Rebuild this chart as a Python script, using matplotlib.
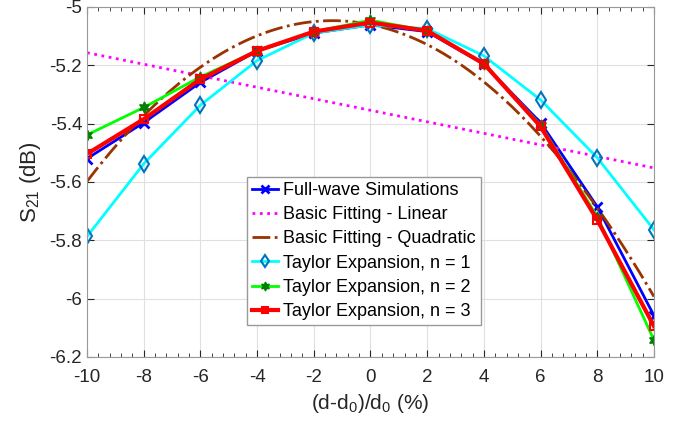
import numpy as np
import matplotlib
matplotlib.use("Agg")
import matplotlib.pyplot as plt
from matplotlib.ticker import MultipleLocator

plt.rcParams['font.family'] = ['Liberation Sans', 'DejaVu Sans']
plt.rcParams['mathtext.fontset'] = 'custom'
plt.rcParams['mathtext.rm'] = 'Liberation Sans'
plt.rcParams['axes.unicode_minus'] = False

x = [-10, -8, -6, -4, -2, 0, 2, 4, 6, 8, 10]
full_wave = [-5.520, -5.397, -5.259, -5.151, -5.090, -5.062, -5.085, -5.197, -5.397, -5.685, -6.058]
taylor_n1 = [-5.787, -5.538, -5.337, -5.184, -5.090, -5.062, -5.075, -5.168, -5.319, -5.517, -5.764]
taylor_n2 = [-5.439, -5.345, -5.240, -5.151, -5.085, -5.046, -5.082, -5.195, -5.405, -5.719, -6.142]
taylor_n3 = [-5.504, -5.385, -5.248, -5.151, -5.085, -5.054, -5.082, -5.195, -5.410, -5.730, -6.094]
yticks = [-6.2, -6.0, -5.8, -5.6, -5.4, -5.2, -5.0]
ytick_labels = ['-6.2', '-6', '-5.8', '-5.6', '-5.4', '-5.2', '-5']

# basic fitting, as in the original (polyfit of the full-wave data)
xf = np.linspace(-10, 10, 201)
lin = np.polyval(np.polyfit(x, full_wave, 1), xf)
quad = np.polyval(np.polyfit(x, full_wave, 2), xf)

fig = plt.figure(figsize=(6.88, 4.26), dpi=100)
ax = fig.add_axes([0.1265, 0.162, 0.824, 0.822])

ax.plot(x, full_wave, '-x', color='b', lw=2, ms=7, mew=2, label='Full-wave Simulations')
ax.plot(xf, lin, ':', color='#FF00FF', lw=2, label='Basic Fitting - Linear')
ax.plot(xf, quad, '-.', color=(0.6, 0.2, 0), lw=2, label='Basic Fitting - Quadratic')
ax.plot(x, taylor_n1, '-d', color='#00FFFF', lw=2, ms=8, mec=(0, 0.45, 0.74), mfc='none', mew=1.5,
        label='Taylor Expansion, n = 1')
ax.plot(x, taylor_n2, '-', marker=(6, 1, 0), color=(0, 1, 0), lw=2, ms=8, mec=(0, 0.5, 0), mfc=(0, 0.5, 0),
        label='Taylor Expansion, n = 2')
ax.plot(x, taylor_n3, '-s', color='r', lw=3, ms=6, mfc='none', mew=1.5, label='Taylor Expansion, n = 3')

ax.set_xlim(-10, 10)
ax.set_ylim(-6.2, -5)
ax.xaxis.set_major_locator(MultipleLocator(2))
ax.xaxis.set_minor_locator(MultipleLocator(0.4))
ax.set_yticks(yticks)
ax.set_yticklabels(ytick_labels)
ax.tick_params(which='both', direction='in', top=True, right=True, colors=(0.15, 0.15, 0.15), labelsize=13.5)
ax.tick_params(which='major', length=5)
ax.tick_params(which='minor', length=3, left=False, right=False)
ax.tick_params(axis='x', which='major', pad=9)
ax.grid(True, color=(0.88, 0.88, 0.88), lw=0.8)
ax.set_axisbelow(True)
for s in ax.spines.values():
    s.set_color((0.6, 0.6, 0.6))

ax.set_xlabel('(d-d$_0$)/d$_0$ (%)', fontsize=15, color=(0.15, 0.15, 0.15), labelpad=4)
ax.set_ylabel('S$_{21}$ (dB)', fontsize=16, color=(0.15, 0.15, 0.15), labelpad=5)

leg = ax.legend(loc='lower left', bbox_to_anchor=(0.282, 0.09), fontsize=13, fancybox=False,
                edgecolor=(0.6, 0.6, 0.6), framealpha=1, handlelength=1.4, handletextpad=0.3,
                borderpad=0.3, labelspacing=0.4, borderaxespad=0, markerscale=0.8)
leg.get_frame().set_linewidth(1)

fig.savefig('out.png', dpi=100)
